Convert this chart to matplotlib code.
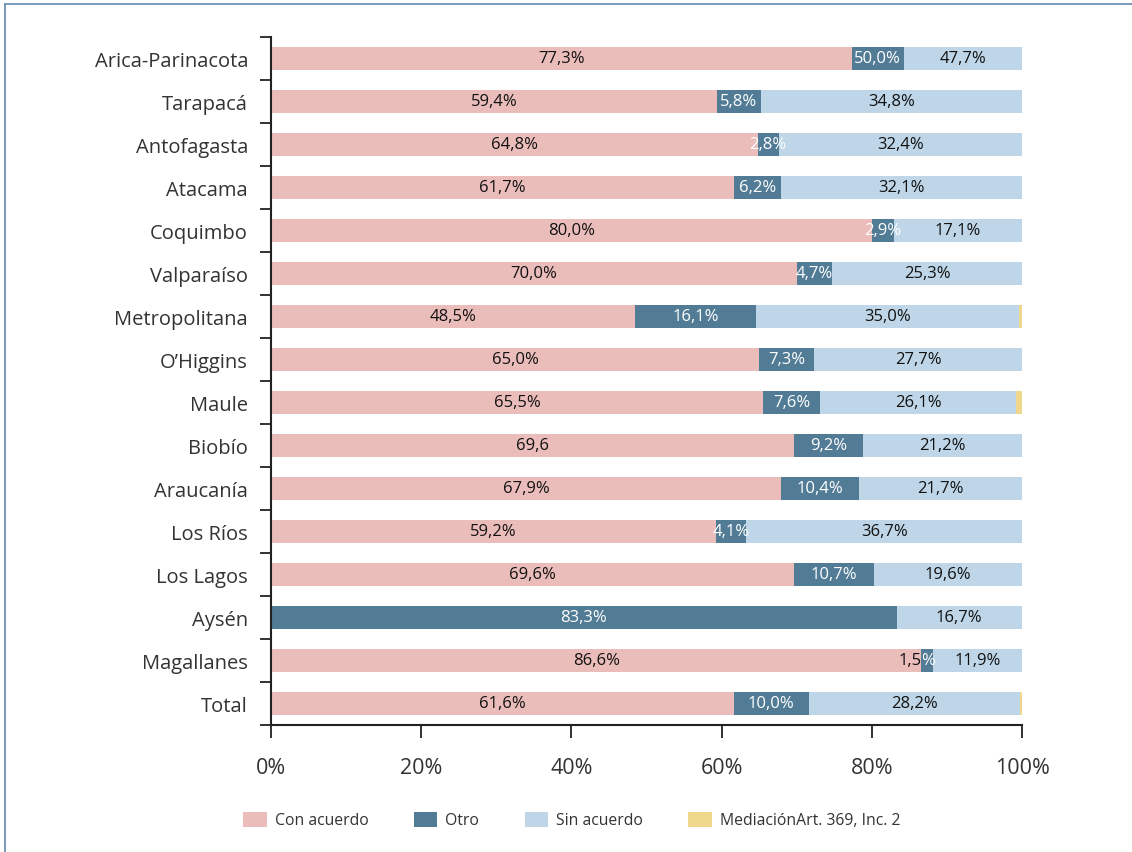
import matplotlib
matplotlib.use("Agg")
import matplotlib.pyplot as plt
from matplotlib.lines import Line2D
from matplotlib.patches import Patch
import numpy as np

plt.rcParams['font.family'] = ['Open Sans', 'DejaVu Sans']

regions = ["Arica-Parinacota", "Tarapacá", "Antofagasta", "Atacama", "Coquimbo",
           "Valparaíso", "Metropolitana", "O\u2019Higgins", "Maule", "Biobío",
           "Araucanía", "Los Ríos", "Los Lagos", "Aysén", "Magallanes", "Total"]

con_acuerdo = [77.3, 59.4, 64.8, 61.7, 80.0, 70.0, 48.5, 65.0, 65.5, 69.6, 67.9, 59.2, 69.6, 0.0, 86.6, 61.6]
otro        = [7.0, 5.8, 2.8, 6.2, 2.9, 4.7, 16.1, 7.3, 7.6, 9.2, 10.4, 4.1, 10.7, 83.3, 1.5, 10.0]
sin_acuerdo = [15.7, 34.8, 32.4, 32.1, 17.1, 25.3, 35.0, 27.7, 26.1, 21.2, 21.7, 36.7, 19.7, 16.7, 11.9, 28.2]
mediacion   = [0.0, 0.0, 0.0, 0.0, 0.0, 0.0, 0.4, 0.0, 0.8, 0.0, 0.0, 0.0, 0.0, 0.0, 0.0, 0.2]

con_labels = ["77,3%", "59,4%", "64,8%", "61,7%", "80,0%", "70,0%", "48,5%", "65,0%", "65,5%",
              "69,6", "67,9%", "59,2%", "69,6%", "", "86,6%", "61,6%"]
otro_labels = ["50,0%", "5,8%", "2,8%", "6,2%", "2,9%", "4,7%", "16,1%", "7,3%", "7,6%",
               "9,2%", "10,4%", "4,1%", "10,7%", "83,3%", "1,5%", "10,0%"]
sin_labels = ["47,7%", "34,8%", "32,4%", "32,1%", "17,1%", "25,3%", "35,0%", "27,7%", "26,1%",
              "21,2%", "21,7%", "36,7%", "19,6%", "16,7%", "11,9%", "28,2%"]

series_names = ["Con acuerdo", "Otro", "Sin acuerdo", "MediaciónArt. 369, Inc. 2"]
colors = ["#eabdbb", "#527c96", "#bed6e8", "#efd78c"]

W, H = 1132, 853
fig = plt.figure(figsize=(W / 100, H / 100), dpi=100)
ax = fig.add_axes([271 / W, 1 - 726 / H, (1022 - 271) / W, (726 - 38) / H])

y = np.arange(len(regions))
c = np.array(con_acuerdo)
o = np.array(otro)
s = np.array(sin_acuerdo)
m = np.array(mediacion)
bh = 0.53
ax.barh(y, c, height=bh, color=colors[0], edgecolor='none')
ax.barh(y, o, left=c, height=bh, color=colors[1], edgecolor='none')
ax.barh(y, s, left=c + o, height=bh, color=colors[2], edgecolor='none')
ax.barh(y, m, left=c + o + s, height=bh, color=colors[3], edgecolor='none')

fs = 12
for i in range(len(regions)):
    if con_labels[i]:
        ax.text(c[i] / 2, y[i], con_labels[i], ha='center', va='center', fontsize=fs, color='#111111')
    if regions[i] == "Magallanes":
        ax.text(c[i], y[i], "1,5", ha='right', va='center', fontsize=fs, color='#111111')
        ax.text(c[i], y[i], "%", ha='left', va='center', fontsize=fs, color='white')
    else:
        ax.text(c[i] + o[i] / 2, y[i], otro_labels[i], ha='center', va='center', fontsize=fs, color='white')
    ax.text(c[i] + o[i] + s[i] / 2, y[i], sin_labels[i], ha='center', va='center', fontsize=fs, color='#111111')

ax.set_xlim(0, 100)
ax.set_ylim(len(regions) - 0.5, -0.5)
ax.set_xticks([0, 20, 40, 60, 80, 100])
ax.set_xticklabels(["0%", "20%", "40%", "60%", "80%", "100%"], fontsize=15.5, color='#333333')
ax.set_yticks(np.arange(len(regions) + 1) - 0.5)
ax.set_yticklabels([])
ax.set_yticks(y, minor=True)
ax.set_yticklabels(regions, minor=True, fontsize=14.5, color='#333333')
ax.tick_params(axis='y', which='minor', length=0, pad=16.5)
ax.tick_params(axis='y', which='major', length=8, width=1.3, color='#222222')
ax.tick_params(axis='x', length=9, width=1.3, color='#222222', pad=14)
for sp in ['top', 'right']:
    ax.spines[sp].set_visible(False)
for sp in ['left', 'bottom']:
    ax.spines[sp].set_linewidth(1.5)
    ax.spines[sp].set_color('#222222')

handles = [Patch(facecolor=col, edgecolor='none') for col in colors]
fig.legend(handles, series_names, loc='center', bbox_to_anchor=(0.505, 1 - 821 / H), ncol=4,
           frameon=False, fontsize=11.3, handlelength=1.5, handleheight=1.1, handletextpad=0.5,
           columnspacing=2.9, labelcolor='#333333')

# frame lines (top and left)
fig.add_artist(Line2D([5 / W, 1], [1 - 5 / H, 1 - 5 / H], transform=fig.transFigure, color='#7092b4', lw=1.3))
fig.add_artist(Line2D([5 / W, 5 / W], [0, 1 - 5 / H], transform=fig.transFigure, color='#7092b4', lw=1.3))

fig.savefig("out.png", dpi=100)
